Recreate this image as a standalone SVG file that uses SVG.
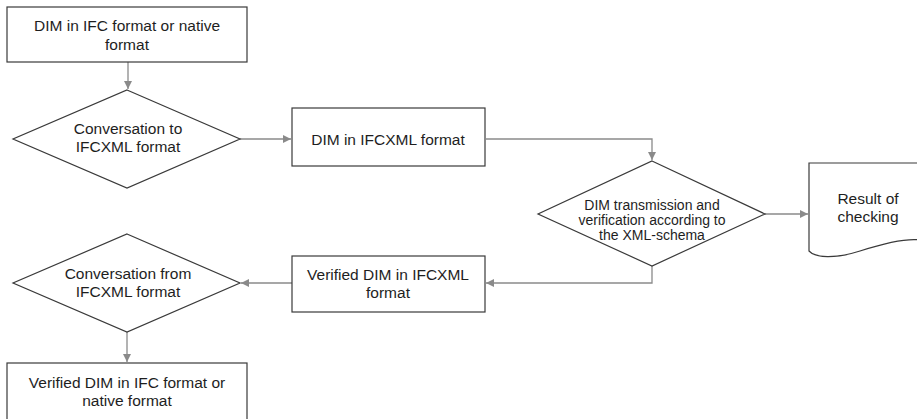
<svg xmlns="http://www.w3.org/2000/svg" width="917" height="419" viewBox="0 0 917 419">
<defs>
<marker id="ah" viewBox="0 0 10 10" refX="10" refY="5" markerWidth="9" markerHeight="8" markerUnits="userSpaceOnUse" orient="auto">
<path d="M0,0 L10,5 L0,10 Z" fill="#8a8a8a"/>
</marker>
<style>
.shape{fill:#fff;stroke:#3a3a3a;stroke-width:1.2}
.conn{fill:none;stroke:#8a8a8a;stroke-width:1.3;marker-end:url(#ah)}
text{font-family:"Liberation Sans",Arial,sans-serif;fill:#1e1e1e;text-anchor:middle}
.t15{font-size:15.5px}
.t14{font-size:14px}
</style>
</defs>
<rect width="917" height="419" fill="#fff"/>
<g id="connectors">
<path class="conn" d="M128,62 V89"/>
<path class="conn" d="M240,139 H291"/>
<path class="conn" d="M486,139 H652 V160"/>
<path class="conn" d="M765,214 H808"/>
<path class="conn" d="M652,266 V283 H486"/>
<path class="conn" d="M292,283 H241"/>
<path class="conn" d="M127,332 V362"/>
</g>
<g id="n1">
<rect class="shape" x="7" y="7" width="240" height="55"/>
<text class="t15" x="127" y="31">DIM in IFC format or native</text>
<text class="t15" x="127" y="50">format</text>
</g>
<g id="n2">
<polygon class="shape" points="127,90 240,139 127,188 13,139"/>
<text class="t15" x="128" y="134">Conversation to</text>
<text class="t15" x="128" y="152">IFCXML format</text>
</g>
<g id="n3">
<rect class="shape" x="292" y="108" width="193" height="58"/>
<text class="t15" x="388" y="145">DIM in IFCXML format</text>
</g>
<g id="n4">
<polygon class="shape" points="652,161 765,214 652,266 538,214"/>
<text class="t14" x="652" y="210">DIM transmission and</text>
<text class="t14" x="652" y="225">verification according to</text>
<text class="t14" x="652" y="240">the XML-schema</text>
</g>
<g id="n5">
<path class="shape" d="M809,163 H920 V240 C905,238 885,243 860,251 C835,259 815,258 809,251 Z"/>
<text class="t15" x="868" y="204">Result of</text>
<text class="t15" x="868" y="222">checking</text>
</g>
<g id="n6">
<rect class="shape" x="292" y="256" width="193" height="56"/>
<text class="t15" x="388" y="280">Verified DIM in IFCXML</text>
<text class="t15" x="388" y="298">format</text>
</g>
<g id="n7">
<polygon class="shape" points="127,234 240,283 127,332 13,283"/>
<text class="t15" x="128" y="279">Conversation from</text>
<text class="t15" x="128" y="297">IFCXML format</text>
</g>
<g id="n8">
<rect class="shape" x="7" y="363" width="240" height="60"/>
<text class="t15" x="127" y="388">Verified DIM in IFC format or</text>
<text class="t15" x="127" y="406">native format</text>
</g>
</svg>
